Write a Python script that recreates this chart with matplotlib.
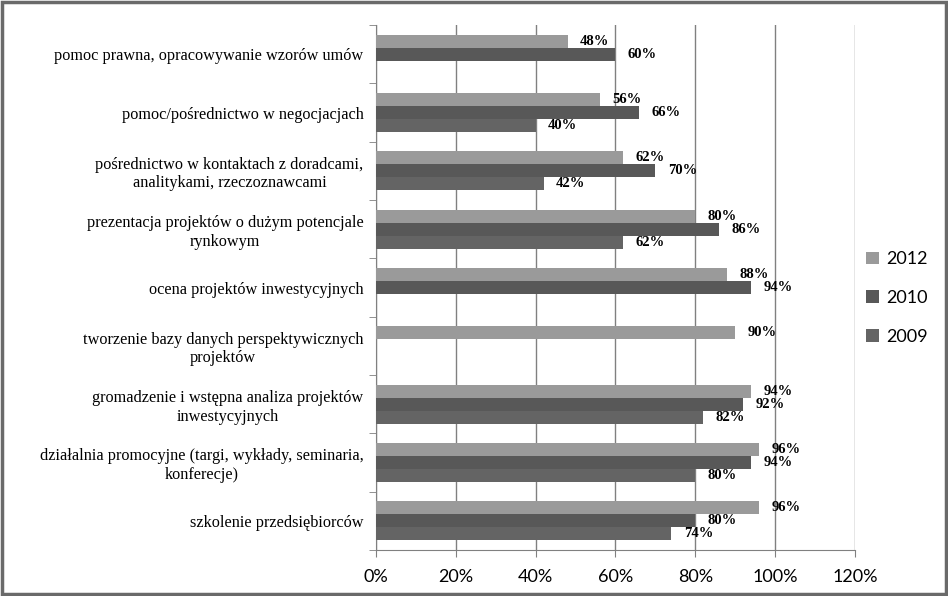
import numpy as np
import matplotlib
matplotlib.use("Agg")
import matplotlib.pyplot as plt
import matplotlib.ticker as ticker
from matplotlib.patches import Rectangle

categories = [
    "pomoc prawna, opracowywanie wzorów umów",
    "pomoc/pośrednictwo w negocjacjach",
    "pośrednictwo w kontaktach z doradcami,\nanalitykami, rzeczoznawcami",
    "prezentacja projektów o dużym potencjale\nrynkowym",
    "ocena projektów inwestycyjnych",
    "tworzenie bazy danych perspektywicznych\nprojektów",
    "gromadzenie i wstępna analiza projektów\ninwestycyjnych",
    "działalnia promocyjne (targi, wykłady, seminaria,\nkonferecje)",
    "szkolenie przedsiębiorców",
]
series = ["2012", "2010", "2009"]
v2012 = [48, 56, 62, 80, 88, 90, 94, 96, 96]
v2010 = [60, 66, 70, 86, 94, None, 92, 94, 80]
v2009 = [None, 40, 42, 62, None, None, 82, 80, 74]
colors = ["#9a9a9a", "#585858", "#646464"]

fig = plt.figure(figsize=(9.48, 5.96), dpi=100)
ax = fig.add_axes([0.3966, 0.0772, 0.5053, 0.8808])

h = 0.223
centers = np.arange(len(categories)) + 0.5
bars = []
for k, (vals, col) in enumerate(zip([v2012, v2010, v2009], colors)):
    y = centers + (k - 1) * h
    x = [v if v is not None else 0 for v in vals]
    b = ax.barh(y, x, height=h, color=col, zorder=3, label=series[k])
    bars.append(b)
    for yy, v in zip(y, vals):
        if v is None:
            continue
        ax.annotate(f"{v}%", (v, yy), xytext=(9, 0), textcoords="offset points",
                    ha="left", va="center", fontsize=10.5, fontweight="bold",
                    family="Liberation Serif", zorder=4)

ax.set_xlim(0, 120)
ax.set_ylim(len(categories), 0)
ax.xaxis.set_major_locator(ticker.MultipleLocator(20))
ax.xaxis.set_major_formatter(ticker.FuncFormatter(lambda v, p: f"{v:.0f}%"))
ax.grid(axis="x", color="#808080", linewidth=1, zorder=0)

ax.set_yticks(centers)
ax.set_yticklabels(categories, family="Liberation Serif", fontsize=11.7,
                   multialignment="center")
ax.set_yticks(np.arange(len(categories) + 1), minor=True)
ax.tick_params(axis="y", which="major", length=0, pad=9)
ax.tick_params(axis="y", which="minor", length=5, color="#808080")
ax.tick_params(axis="x", length=5, color="#808080", labelsize=13, pad=9)
for lab in ax.get_xticklabels():
    lab.set_family("Lato")

for s in ["top", "right"]:
    ax.spines[s].set_visible(False)
for s in ["left", "bottom"]:
    ax.spines[s].set_color("#808080")

leg = ax.legend(handles=bars, loc="center left", bbox_to_anchor=(0.99, 0.48),
                frameon=False, prop={"family": "Lato", "size": 13},
                handlelength=0.7, handleheight=0.7, labelspacing=1.25,
                handletextpad=0.4)

fig.patches.append(Rectangle((0.002, 0.003), 0.996, 0.994, transform=fig.transFigure,
                             fill=False, edgecolor="#6a6a6a", linewidth=2.5))

fig.savefig("out.png", dpi=100)
